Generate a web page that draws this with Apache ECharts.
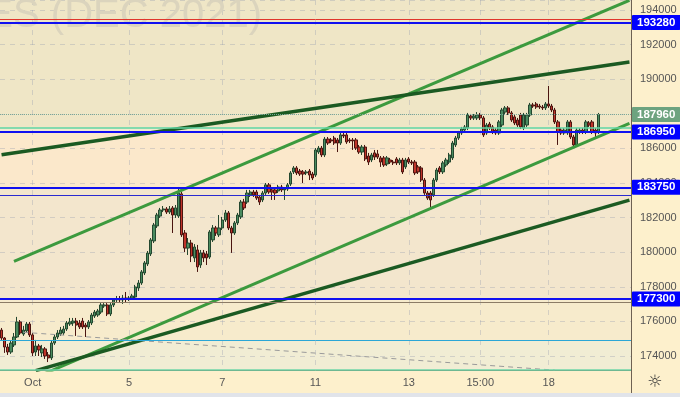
<!DOCTYPE html>
<html><head><meta charset="utf-8">
<script src="https://cdn.jsdelivr.net/npm/echarts@6/dist/echarts.min.js"></script>
<style>html,body{margin:0;padding:0;background:#fdf0cc}#c{width:680px;height:397px}</style>
</head><body><div id="c"></div>
<script>
// ---- data ----
const slotCount = 203;
const tickIndex = [10, 41, 71, 101, 131, 154, 176];
const tickText = ['Oct', '5', '7', '11', '13', '15:00', '18'];
// [open, close, low, high]
const ohlc = [
[175500,175040,174930,175620],[175040,174520,174180,175100],[174520,174230,174060,174700],[174230,174750,174120,174870],
[174640,175100,174520,175330],[175100,175970,175040,176260],[175970,175330,175220,176080],[175270,175500,175160,175740],
[175450,175850,175330,175970],[175850,175220,175100,175970],[175220,174180,174000,175330],[174230,174580,174000,174930],
[174580,174350,174000,174700],[174180,174410,173940,174640],[174410,174000,173830,174520],[174060,173890,173650,174230],
[173890,174750,173770,174870],[174750,175100,174640,175220],[175100,175330,174980,175500],[175270,175500,175160,175680],
[175330,175560,175220,175740],[175560,175910,175450,176020],[175850,175970,175740,176200],[175910,176020,175740,176200],
[176020,175790,175160,176200],[175910,175680,175560,176080],[176020,175680,175560,176200],[175790,175680,175100,175910],
[175680,175970,175560,176080],[175910,176370,175790,176490],[176310,176540,176200,176660],[176370,176600,176260,176720],
[176540,176950,176430,177060],[176890,176950,176780,177060],[176950,176430,176310,177060],[176430,176950,176310,177060],
[176950,177240,176830,177350],[177240,177300,177120,177470],[177300,177240,177070,177470],[177240,177350,177010,177530],
[177350,177300,177120,177700],[177300,177350,177180,177470],[177350,177470,177240,177590],[177410,177990,177300,178110],
[177930,178220,177760,178390],[178220,178860,178110,178970],[178800,179380,178680,179490],[179320,179950,179200,180070],
[179900,180710,179780,180820],[180650,181570,180530,181690],[181520,182150,181400,182270],[182090,182440,181980,182560],
[182440,182500,182320,182670],[182500,182320,182210,182610],[182320,182500,182210,182670],[182560,182150,181110,182670],
[182150,182560,181980,182730],[182090,183420,181980,183770],[183370,181000,180880,183480],[181110,180240,180010,181280],
[180240,180530,179840,180820],[180530,179780,179430,180710],[179670,180300,179430,180470],[180130,179150,178860,180420],
[179260,179960,179090,180130],[179960,179670,179430,180130],[179900,179670,179260,180070],[179720,181170,179610,181280],
[180710,181400,180590,181570],[181400,181110,180940,181520],[181000,181400,180880,182150],[181400,181860,181280,182040],
[181860,182270,181750,182440],[182270,181400,181280,182380],[181400,181110,179960,181520],[181110,181690,181000,181800],
[181690,182150,181570,182270],[182040,182900,181920,183020],[182900,182560,182440,183080],[182900,183420,182790,183600],
[183310,183480,183190,183600],[183480,183310,183190,183600],[183480,183130,183020,183600],[183190,182900,182730,183310],
[183020,183420,182900,183540],[183420,183890,183310,184000],[183890,183480,183370,184000],[183600,183480,183020,183770],
[183600,183420,183020,183710],[183540,183770,183420,183890],[183770,183600,183480,183890],[183600,183650,183020,183770],
[183650,183890,183540,184000],[183940,184580,183830,184690],[184640,184870,184520,184980],[184870,184580,184460,184980],
[184690,184520,184410,184810],[184640,184520,184000,184750],[184580,184640,184460,184750],[184690,184460,184170,184810],
[184520,184290,184170,184640],[184460,185910,184350,186020],[185790,186020,185680,186140],[186020,185620,185500,186140],
[185620,186540,185500,186660],[186540,186310,186200,186660],[186490,186430,186310,186600],[186600,186310,186200,186720],
[186490,186310,185790,186600],[186310,186780,186200,186890],[186780,186720,186600,186890],[186780,186370,186260,186890],
[186490,186430,186310,186600],[186490,186430,185910,186600],[186490,186020,185910,186600],[186080,185790,185680,186200],
[185790,186080,185620,186200],[186080,185390,185270,186200],[185560,185210,185040,185740],[185330,185620,185210,185740],
[185740,185500,185330,185910],[185680,185500,185390,185910],[185450,185210,184930,185560],[185450,185040,184930,185560],
[185100,185450,184980,185560],[185330,185210,185100,185450],[185210,185160,185040,185330],[185390,185160,185040,185500],
[185160,185330,185040,185450],[185330,184640,184520,185450],[184930,185330,184810,185450],[185390,185210,185100,185500],
[185210,185160,185040,185330],[185210,184580,184460,185330],[184930,184640,184520,185040],[184870,184170,184060,184980],
[184170,183420,183310,184290],[183420,183130,183020,183540],[183420,183020,182610,183540],[183310,184170,183190,184290],
[184170,184750,184060,184870],[184870,184640,184520,184980],[184640,185160,184520,185270],[185040,185330,184930,185450],
[185210,185620,185100,185740],[185450,186310,185330,186430],[186200,186600,186080,186720],[186600,186890,186490,187010],
[186890,187120,186780,187240],[187060,187240,186950,187350],[187180,187930,187060,188050],[187870,187760,187640,187990],
[187760,187870,187640,187990],[187760,187930,187640,188100],[187930,187760,187640,188050],[187760,186780,186660,187870],
[186890,187350,186780,187470],[187410,187180,187060,187530],[187240,186950,186830,187350],[187060,186890,186780,187180],
[186890,187530,186780,187640],[187350,188220,187240,188340],[188100,188340,187990,188450],[188340,188050,187930,188450],
[188050,187640,187530,188160],[187820,187470,187350,187930],[187640,187350,187240,187760],[187930,187240,187120,188050],
[187180,187930,187060,188050],[187350,187930,187240,188050],[187930,188510,187820,188630],[188510,188450,188340,188630],
[188570,188390,188280,188680],[188450,188390,188280,188570],[188390,188340,188220,188510],[188340,188570,188220,188680],
[188570,188450,188340,189610],[188450,188220,188100,188570],[188220,187530,187410,188340],[187530,186950,186200,187640],
[187060,186890,186780,187180],[186890,187060,186780,187180],[186890,187530,186780,187640],[187530,186660,186540,187640],
[186660,186200,186080,186780],[186200,187060,186080,187180],[186950,187060,186830,187180],[187060,186950,186830,187180],
[186950,187530,186830,187640],[187470,187350,187240,187580],[187530,186950,186830,187640],[187060,186890,186660,187180],
[186950,187960,186830,188050]
];
const upperChannel = [[4, 179467], [202, 194561]];
const lowerChannel = [[14, 172995], [202, 187452]];
const upperTrend = [[0, 185632], [202, 190989]];
const lowerTrend = [[11, 173155], [202, 183011]];
const dashedTrend = [[7, 175370], [178, 173183]];
const boxedLevels = [193280, 186950, 183750, 177300];
const lastPrice = 187960;
const redLevel = 193450;
const mintLevels = [187180, 173230];
const thinBlueLevel = 183320;
const greyLevel = 177080;
const cyanLevel = 174900;
const yMin = 173191, yMax = 194578;
const bandEdges = [194578, 187180, 186950, 183750, 177300, 174900, 173191];
const bandColors = ['#efe6c6', '#f3ebcf', '#fbe8cb', '#f3e6cd', '#f7ebcc', '#f1edd4'];

// ---- chart ----
const categories = Array.from({length: slotCount}, (_, i) => 'c' + i);
const font = 'Liberation Sans';
const isTick = (i) => tickIndex.indexOf(i) >= 0;
const boxLabel = (bg) => ({
  show: true, position: 'end', distance: 1, formatter: (p) => String(p.value),
  color: '#fff', backgroundColor: bg, fontWeight: 'bold', fontSize: 11.5, fontFamily: font,
  padding: [2, 5, 1, 5], borderRadius: 1
});
const blueLine = {color: '#1010f0', width: 2, type: 'solid'};

const levelData = [
  {yAxis: redLevel, lineStyle: {color: '#e0362c', width: 1, type: 'solid'}},
  {yAxis: boxedLevels[0], lineStyle: blueLine, label: boxLabel('#0000ff')},
  {yAxis: mintLevels[0], lineStyle: {color: '#5fd6a4', width: 1.5, type: 'solid'}},
  {yAxis: lastPrice, lineStyle: {color: '#7aa898', width: 1, type: 'dotted'}, label: boxLabel('#6da37f')},
  {yAxis: boxedLevels[1], lineStyle: blueLine, label: boxLabel('#0000ff')},
  {yAxis: boxedLevels[2], lineStyle: blueLine, label: boxLabel('#0000ff')},
  {yAxis: thinBlueLevel, lineStyle: {color: '#2a2ad0', width: 1, type: 'solid'}},
  {yAxis: boxedLevels[3], lineStyle: blueLine, label: boxLabel('#0000ff')},
  {yAxis: greyLevel, lineStyle: {color: '#8c7c66', width: 1, type: 'solid'}},
  {yAxis: cyanLevel, lineStyle: {color: '#2aa6d6', width: 1, type: 'solid'}},
  {yAxis: mintLevels[1], lineStyle: {color: '#6fd6a8', width: 1.5, type: 'solid'}}
];

const bands = [];
for (let k = 0; k < bandColors.length; k++) {
  bands.push([{yAxis: bandEdges[k + 1], itemStyle: {color: bandColors[k]}}, {yAxis: bandEdges[k]}]);
}

const trend = (data, color, width, type) => ({
  type: 'line', data, symbol: 'none', silent: true, z: 3,
  lineStyle: {color, width, type: type || 'solid'}
});

const chart = echarts.init(document.getElementById('c'), null, {renderer: 'canvas'});
chart.setOption({
  animation: false,
  backgroundColor: '#fdf0cc',
  grid: {left: 0, right: 49, top: 0, bottom: 27},
  xAxis: {
    type: 'category', data: categories, boundaryGap: true,
    axisLine: {lineStyle: {color: '#6e6152'}},
    axisTick: {show: false},
    axisLabel: {
      interval: (i) => isTick(i),
      formatter: (v, i) => { const k = tickIndex.indexOf(i); return k >= 0 ? tickText[k] : ''; },
      color: '#555', fontSize: 11, fontFamily: font, margin: 7
    },
    splitLine: {show: true, interval: (i) => isTick(i), alignWithLabel: true,
      lineStyle: {color: 'rgba(150,155,175,0.35)', type: [5, 5]}}
  },
  yAxis: {
    type: 'value', position: 'right', min: yMin, max: yMax,
    splitNumber: 10, minInterval: 2000, maxInterval: 2000,
    axisLine: {show: true, lineStyle: {color: '#6e6152'}},
    axisTick: {show: false},
    axisLabel: {color: '#555', fontSize: 11, fontFamily: font, margin: 9, showMinLabel: false, showMaxLabel: false,
      formatter: (v) => String(Math.round(v))},
    splitLine: {show: true, lineStyle: {color: 'rgba(150,155,175,0.35)', type: [5, 5]}}
  },
  graphic: [
    {type: 'text', x: 262, y: 16, z: 1, silent: true,
     style: {text: 'ES (DEC 2021)', fill: '#dbd4bd', font: '40px "Liberation Sans"', align: 'right', verticalAlign: 'middle'}},
    {type: 'text', x: 655, y: 383, silent: true,
     style: {text: '☼', fill: '#333', font: '17px "DejaVu Sans"', align: 'center', verticalAlign: 'middle'}},
    {type: 'rect', silent: true, shape: {x: 0, y: 393, width: 680, height: 4}, style: {fill: '#e1e4ea'}},
    {type: 'line', silent: true, shape: {x1: 631.5, y1: 370, x2: 631.5, y2: 393}, style: {stroke: '#6e6152', lineWidth: 1}}
  ],
  series: [
    {type: 'line', data: [], silent: true,
     markArea: {silent: true, z: -1, itemStyle: {borderWidth: 0}, data: bands}},
    {type: 'candlestick', data: ohlc, barWidth: 2.8, silent: true, z: 2,
     itemStyle: {color: '#4a8b5f', color0: '#c0342a', borderColor: '#24472f', borderColor0: '#4a1510', borderWidth: 1},
     markLine: {symbol: 'none', silent: true, z: 5, label: {show: false}, data: levelData}},
    trend(upperChannel, '#3c9a3e', 3),
    trend(lowerChannel, '#3c9a3e', 3),
    trend(upperTrend, '#1b5a22', 3.5),
    trend(lowerTrend, '#1b5a22', 3.5),
    trend(dashedTrend, '#9a9a9a', 1, [5, 4])
  ]
});
</script></body></html>
